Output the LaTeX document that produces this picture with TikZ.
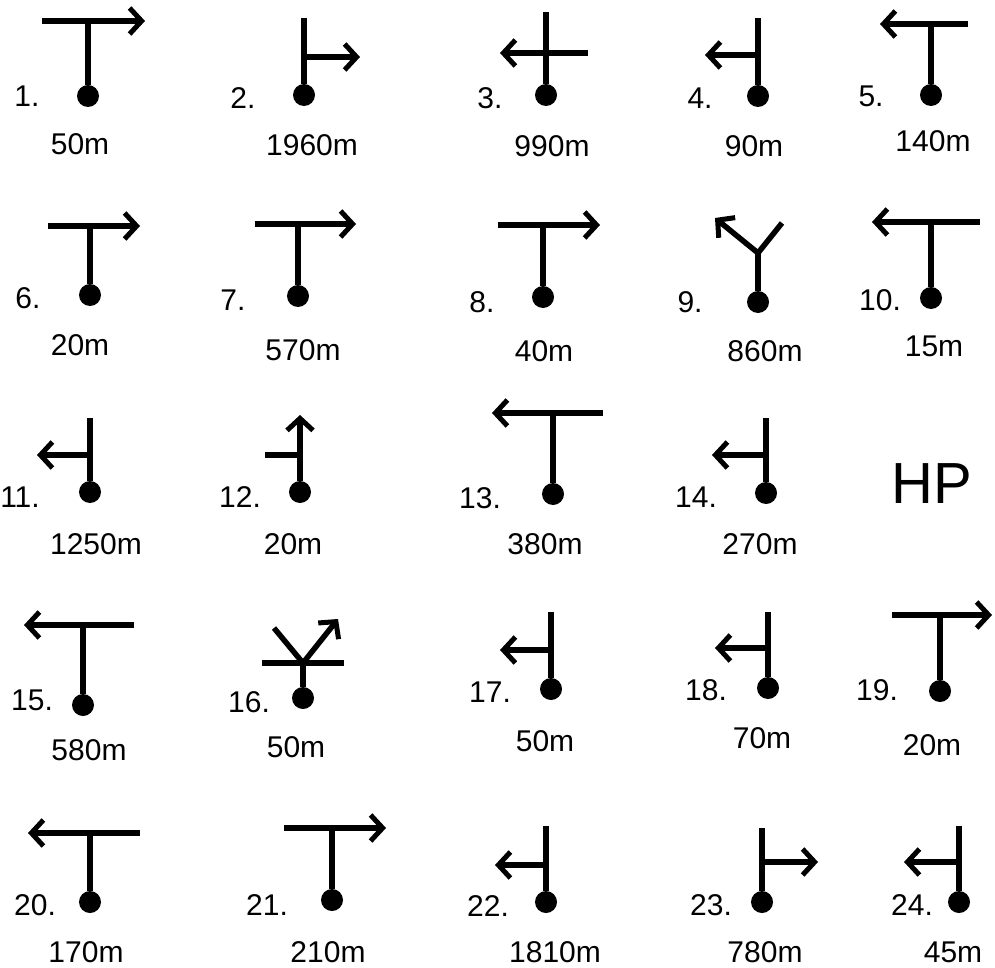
\documentclass[tikz,border=0pt]{standalone}
\usepackage{fontspec}
\setmainfont{Liberation Sans}
\usepackage{tikz}
\usetikzlibrary{arrows.meta}

\begin{document}
\begin{tikzpicture}[
    x=1pt, y=-1pt,
    road/.style={line width=5.5pt},
    arr/.style={road, -{Straight Barb[length=12pt, width=26pt, line width=5pt]}},
    spot/.style={circle, fill=black, inner sep=0pt, minimum size=22pt},
    num/.style={font=\fontsize{30}{31}\selectfont, inner sep=0pt},
    dist/.style={font=\fontsize{30}{31}\selectfont, inner sep=0pt}
  ]
    \useasboundingbox (0,0) rectangle (995,968);

    % row 1
    \node[spot] (d1) at (88,96) {};
    \coordinate (j1) at (88,21);
    \draw[road] (d1) -- (j1);
    \draw[arr] (42,21) -- (145,21);
    \node[num] (n1) at (27,96) {1.};
    \node[dist] (m1) at (80,144) {50m};

    \node[spot] (d2) at (304,95) {};
    \coordinate (j2) at (304,57);
    \draw[road] (d2) -- (304,18);
    \draw[arr] (j2) -- (360,57);
    \node[num] (n2) at (243,98) {2.};
    \node[dist] (m2) at (312,145) {1960m};

    \node[spot] (d3) at (546,95) {};
    \draw[road] (d3) -- (546,12);
    \draw[arr] (588,53) -- (500,53);
    \node[num] (n3) at (490,98) {3.};
    \node[dist] (m3) at (552,146) {990m};

    \node[spot] (d4) at (758,96) {};
    \coordinate (j4) at (758,55);
    \draw[road] (d4) -- (758,18);
    \draw[arr] (j4) -- (705,55);
    \node[num] (n4) at (700,98) {4.};
    \node[dist] (m4) at (754,146) {90m};

    \node[spot] (d5) at (931,95) {};
    \coordinate (j5) at (931,24);
    \draw[road] (d5) -- (j5);
    \draw[arr] (968,24) -- (880,24);
    \node[num] (n5) at (871,96) {5.};
    \node[dist] (m5) at (933,141) {140m};

    % row 2
    \node[spot] (d6) at (90,295) {};
    \coordinate (j6) at (90,226);
    \draw[road] (d6) -- (j6);
    \draw[arr] (48,226) -- (140,226);
    \node[num] (n6) at (28,298) {6.};
    \node[dist] (m6) at (80,345) {20m};

    \node[spot] (d7) at (298,296) {};
    \coordinate (j7) at (298,224);
    \draw[road] (d7) -- (j7);
    \draw[arr] (255,224) -- (356,224);
    \node[num] (n7) at (233,300) {7.};
    \node[dist] (m7) at (303,350) {570m};

    \node[spot] (d8) at (543,297) {};
    \coordinate (j8) at (543,225);
    \draw[road] (d8) -- (j8);
    \draw[arr] (498,225) -- (600,225);
    \node[num] (n8) at (482,302) {8.};
    \node[dist] (m8) at (544,351) {40m};

    \node[spot] (d9) at (758,302) {};
    \coordinate (j9) at (758,253);
    \draw[road] (d9) -- (j9);
    \draw[arr] (j9) -- (715,218);
    \draw[road] (j9) -- (782,223);
    \node[num] (n9) at (690,302) {9.};
    \node[dist] (m9) at (765,351) {860m};

    \node[spot] (d10) at (931,298) {};
    \coordinate (j10) at (931,222);
    \draw[road] (d10) -- (j10);
    \draw[arr] (980,222) -- (872,222);
    \node[num] (n10) at (880,300) {10.};
    \node[dist] (m10) at (934,346) {15m};

    % row 3
    \node[spot] (d11) at (90,492) {};
    \coordinate (j11) at (90,455);
    \draw[road] (d11) -- (90,418);
    \draw[arr] (j11) -- (37,455);
    \node[num] (n11) at (20,497) {11.};
    \node[dist] (m11) at (96,544) {1250m};

    \node[spot] (d12) at (300,492) {};
    \coordinate (j12) at (300,455);
    \draw[arr] (d12) -- (300,415);
    \draw[road] (j12) -- (265,455);
    \node[num] (n12) at (240,497) {12.};
    \node[dist] (m12) at (293,544) {20m};

    \node[spot] (d13) at (553,494) {};
    \coordinate (j13) at (553,413);
    \draw[road] (d13) -- (j13);
    \draw[arr] (603,413) -- (492,413);
    \node[num] (n13) at (480,498) {13.};
    \node[dist] (m13) at (545,544) {380m};

    \node[spot] (d14) at (766,493) {};
    \coordinate (j14) at (766,455);
    \draw[road] (d14) -- (766,418);
    \draw[arr] (j14) -- (712,455);
    \node[num] (n14) at (696,497) {14.};
    \node[dist] (m14) at (760,544) {270m};

    \node[font=\fontsize{58}{60}\selectfont, inner sep=0pt] (hp) at (932,484) {HP};

    % row 4
    \node[spot] (d15) at (83,705) {};
    \coordinate (j15) at (83,625);
    \draw[road] (d15) -- (j15);
    \draw[arr] (134,625) -- (24,625);
    \node[num] (n15) at (32,700) {15.};
    \node[dist] (m15) at (89,750) {580m};

    \node[spot] (d16) at (303,698) {};
    \coordinate (j16) at (303,663);
    \draw[road] (d16) -- (j16);
    \draw[road] (262,663) -- (344,663);
    \draw[road] (j16) -- (274,628);
    \draw[arr] (j16) -- (338,619);
    \node[num] (n16) at (249,702) {16.};
    \node[dist] (m16) at (296,747) {50m};

    \node[spot] (d17) at (551,689) {};
    \coordinate (j17) at (551,650);
    \draw[road] (d17) -- (551,612);
    \draw[arr] (j17) -- (500,650);
    \node[num] (n17) at (490,692) {17.};
    \node[dist] (m17) at (545,741) {50m};

    \node[spot] (d18) at (768,688) {};
    \coordinate (j18) at (768,648);
    \draw[road] (d18) -- (768,612);
    \draw[arr] (j18) -- (715,648);
    \node[num] (n18) at (706,690) {18.};
    \node[dist] (m18) at (762,738) {70m};

    \node[spot] (d19) at (940,691) {};
    \coordinate (j19) at (940,615);
    \draw[road] (d19) -- (j19);
    \draw[arr] (892,615) -- (992,615);
    \node[num] (n19) at (877,690) {19.};
    \node[dist] (m19) at (932,745) {20m};

    % row 5
    \node[spot] (d20) at (90,902) {};
    \coordinate (j20) at (90,833);
    \draw[road] (d20) -- (j20);
    \draw[arr] (140,833) -- (28,833);
    \node[num] (n20) at (35,905) {20.};
    \node[dist] (m20) at (86,952) {170m};

    \node[spot] (d21) at (332,900) {};
    \coordinate (j21) at (332,828);
    \draw[road] (d21) -- (j21);
    \draw[arr] (284,828) -- (386,828);
    \node[num] (n21) at (267,905) {21.};
    \node[dist] (m21) at (328,952) {210m};

    \node[spot] (d22) at (546,902) {};
    \coordinate (j22) at (546,865);
    \draw[road] (d22) -- (546,826);
    \draw[arr] (j22) -- (495,865);
    \node[num] (n22) at (488,906) {22.};
    \node[dist] (m22) at (555,952) {1810m};

    \node[spot] (d23) at (762,902) {};
    \coordinate (j23) at (762,862);
    \draw[road] (d23) -- (762,828);
    \draw[arr] (j23) -- (818,862);
    \node[num] (n23) at (711,905) {23.};
    \node[dist] (m23) at (765,952) {780m};

    \node[spot] (d24) at (959,902) {};
    \coordinate (j24) at (959,862);
    \draw[road] (d24) -- (959,826);
    \draw[arr] (j24) -- (904,862);
    \node[num] (n24) at (912,905) {24.};
    \node[dist] (m24) at (953,952) {45m};
  \end{tikzpicture}
\end{document}
